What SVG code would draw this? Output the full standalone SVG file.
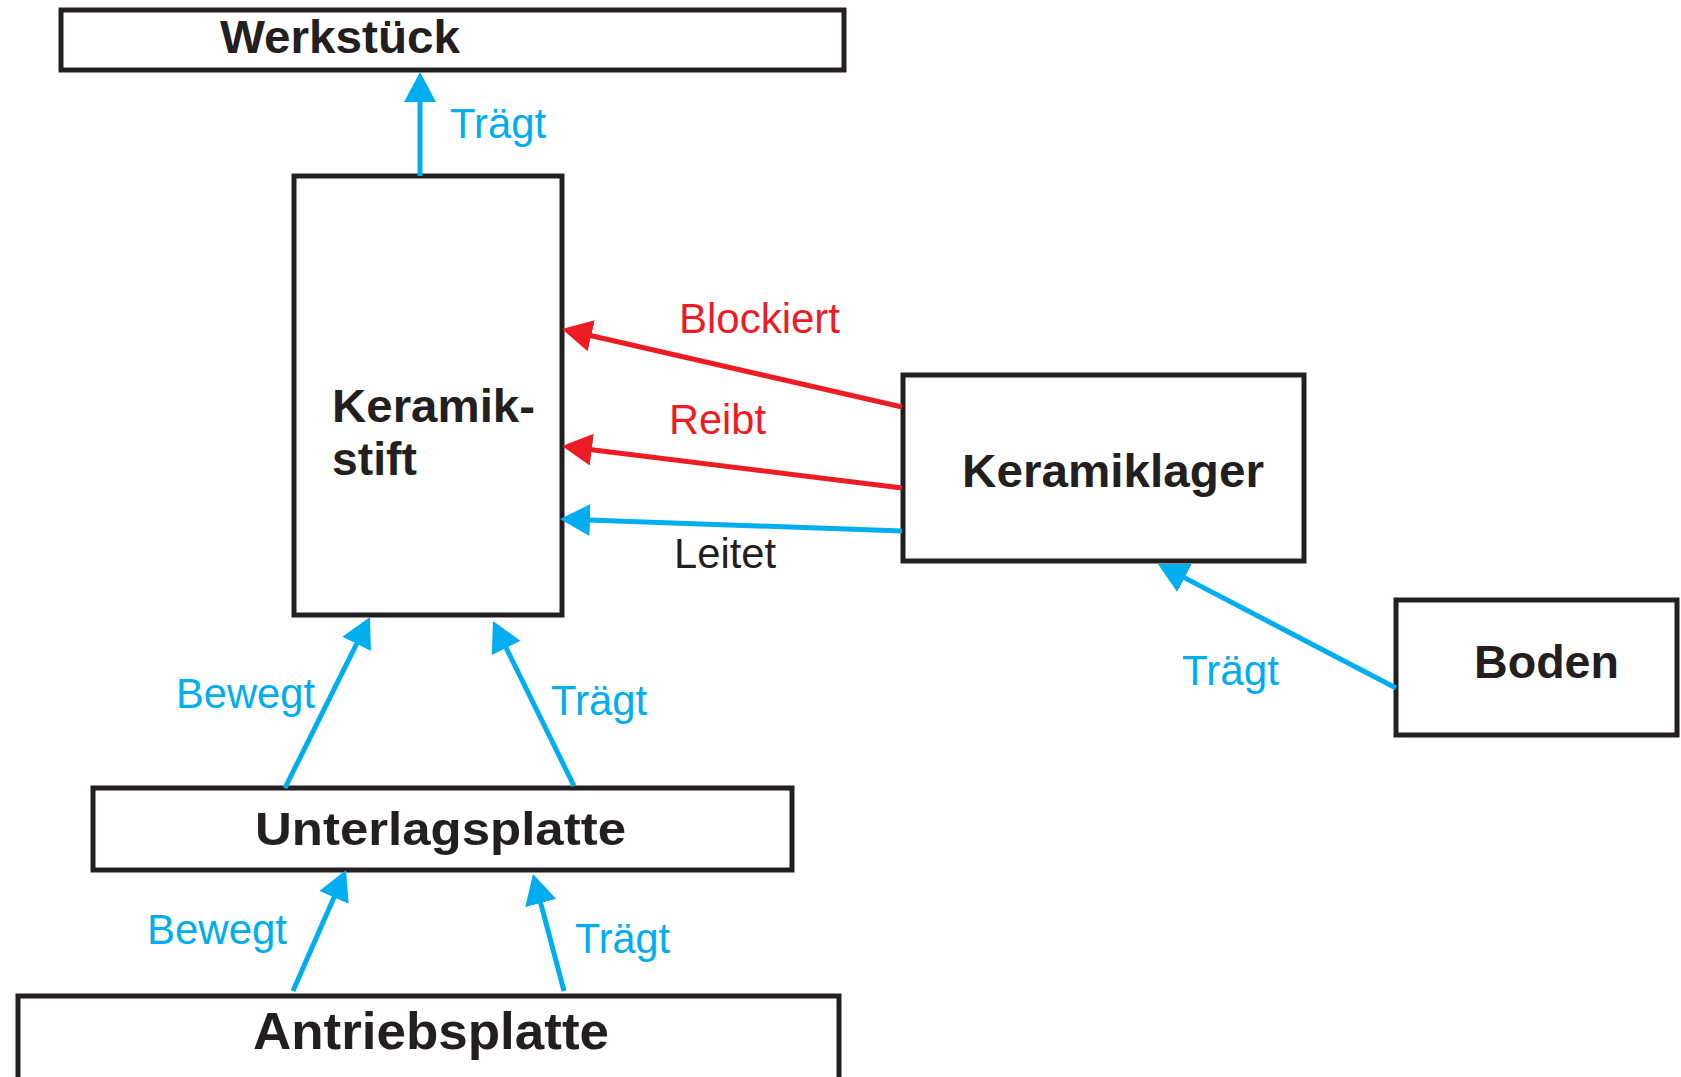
<svg xmlns="http://www.w3.org/2000/svg" width="1681" height="1077" viewBox="0 0 1681 1077">
<style>
.box{fill:#fff;stroke:#231f20;stroke-width:5}
.nt{font-family:"Liberation Sans",Arial,sans-serif;font-weight:bold;font-size:47px;fill:#231f20}
.lb{font-family:"Liberation Sans",Arial,sans-serif;font-size:42px}
.blue{fill:#00aeef}
.red{fill:#ed1c24}
.blk{fill:#231f20}
.cb{stroke:#00aeef;stroke-width:5;fill:none;marker-end:url(#ab)}
.cr{stroke:#ed1c24;stroke-width:5;fill:none;marker-end:url(#ar)}
</style>
<defs>
<marker id="ab" markerUnits="userSpaceOnUse" viewBox="0 0 30 32" markerWidth="30" markerHeight="32" refX="2" refY="16" orient="auto"><path d="M0,0 L30,16 L0,32 Z" fill="#00aeef"/></marker>
<marker id="ar" markerUnits="userSpaceOnUse" viewBox="0 0 30 32" markerWidth="30" markerHeight="32" refX="2" refY="16" orient="auto"><path d="M0,0 L30,16 L0,32 Z" fill="#ed1c24"/></marker>
</defs>
<rect width="1681" height="1077" fill="#fff"/>
<g id="werkstueck"><rect class="box" x="61" y="10" width="783" height="60"/><text class="nt" x="220" y="53" textLength="240" lengthAdjust="spacingAndGlyphs">Werkstück</text></g>
<g id="keramikstift"><rect class="box" x="294" y="176" width="268" height="439"/><text class="nt" x="332" y="422" textLength="203" lengthAdjust="spacingAndGlyphs">Keramik-</text><text class="nt" x="332" y="475" textLength="85" lengthAdjust="spacingAndGlyphs">stift</text></g>
<g id="keramiklager"><rect class="box" x="903" y="375" width="401" height="186"/><text class="nt" x="962" y="487" textLength="302" lengthAdjust="spacingAndGlyphs">Keramiklager</text></g>
<g id="boden"><rect class="box" x="1396" y="600" width="281" height="135"/><text class="nt" x="1474" y="678" textLength="145" lengthAdjust="spacingAndGlyphs">Boden</text></g>
<g id="unterlagsplatte"><rect class="box" x="93" y="788" width="699" height="82"/><text class="nt" x="255" y="845" textLength="371" lengthAdjust="spacingAndGlyphs">Unterlagsplatte</text></g>
<g id="antriebsplatte"><rect class="box" x="18" y="996" width="821" height="110"/><text class="nt" x="253" y="1049" style="font-size:52px" textLength="356" lengthAdjust="spacingAndGlyphs">Antriebsplatte</text></g>
<g id="connectors">
<line class="cb" x1="420" y1="176" x2="420" y2="100"/>
<line class="cr" x1="902" y1="407" x2="589.3" y2="335.3"/>
<line class="cr" x1="902" y1="488" x2="589.8" y2="449.4"/>
<line class="cb" x1="902" y1="531" x2="588" y2="520"/>
<line class="cb" x1="1396" y1="688" x2="1182.8" y2="576.9"/>
<line class="cb" x1="285" y1="788" x2="357.5" y2="642.1"/>
<line class="cb" x1="574" y1="786" x2="505.3" y2="646.1"/>
<line class="cb" x1="293" y1="991" x2="334.8" y2="895.6"/>
<line class="cb" x1="564" y1="991" x2="540.2" y2="901.1"/>
<text class="lb blue" x="450" y="138" textLength="96" lengthAdjust="spacingAndGlyphs">Trägt</text>
<text class="lb red" x="679" y="333" textLength="161" lengthAdjust="spacingAndGlyphs">Blockiert</text>
<text class="lb red" x="669" y="434" textLength="97" lengthAdjust="spacingAndGlyphs">Reibt</text>
<text class="lb blk" x="674" y="568" textLength="102" lengthAdjust="spacingAndGlyphs">Leitet</text>
<text class="lb blue" x="1182" y="685" textLength="97" lengthAdjust="spacingAndGlyphs">Trägt</text>
<text class="lb blue" x="176" y="708" textLength="139" lengthAdjust="spacingAndGlyphs">Bewegt</text>
<text class="lb blue" x="551" y="715" textLength="96" lengthAdjust="spacingAndGlyphs">Trägt</text>
<text class="lb blue" x="147" y="944" textLength="140" lengthAdjust="spacingAndGlyphs">Bewegt</text>
<text class="lb blue" x="575" y="953" textLength="95" lengthAdjust="spacingAndGlyphs">Trägt</text>
</g>
</svg>
